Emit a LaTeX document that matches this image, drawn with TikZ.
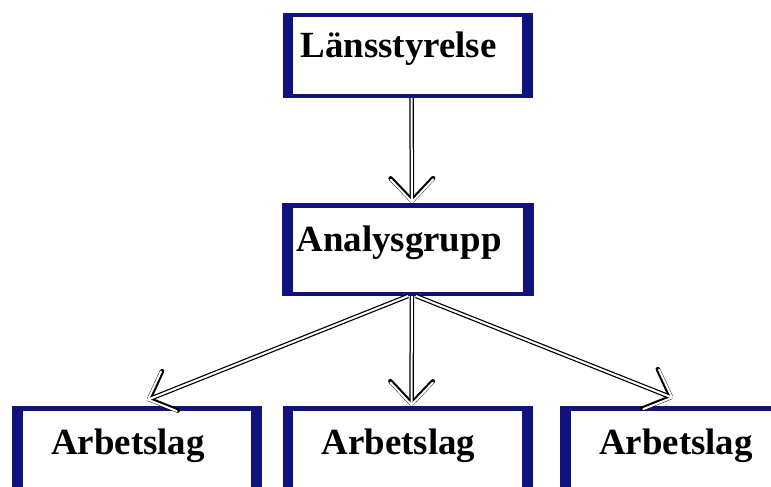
\documentclass[tikz,border=0pt]{standalone}
\usepackage{fontspec}
\setmainfont{Liberation Serif}
\usetikzlibrary{arrows.meta}
\definecolor{framecl}{HTML}{12127E}
\tikzset{
  box/.style={draw=framecl, line width=0.09cm, fill=white,
    minimum width=4.91cm, minimum height=1.77cm, inner sep=0pt,
    font=\fontsize{21}{24}\selectfont\bfseries,
    text height=0.5cm, text depth=0.42cm,
    execute at begin node={\hspace*{-0.36cm}},
    path picture={
      \fill[framecl] (path picture bounding box.south west) rectangle ([xshift=0.17cm]path picture bounding box.north west);
      \fill[framecl] (path picture bounding box.south east) rectangle ([xshift=-0.17cm]path picture bounding box.north east);
    }},
  conn/.style={draw=black, line width=0.09cm,
    -{Straight Barb[length=0.45cm,width=0.85cm,round]},
    postaction={draw=white, line width=0.04cm}}
}
\begin{document}
\begin{tikzpicture}
  \path[use as bounding box, clip] (0,0) rectangle (15.42,9.72);
  % boxes
  \node[box, minimum height=1.61cm] (lan) at (8.15,8.61) {Länsstyrelse};
  \node[box, minimum width=4.95cm] (grp) at (8.16,4.73) {Analysgrupp};
  \node[box] (arb1) at ( 2.74,0.67) {Arbetslag};
  \node[box] (arb2) at ( 8.15,0.67) {Arbetslag};
  \node[box] (arb3) at (13.70,0.67) {Arbetslag};
  % arrows
  \draw[conn] ([xshift=0.08cm]lan.south) -- ([xshift=0.08cm]grp.north);
  \draw[conn] (grp.south) -- ([xshift=0.2cm,yshift=0.12cm]arb1.north);
  \draw[conn] ([xshift=0.08cm]grp.south) -- ([xshift=0.08cm]arb2.north);
  \draw[conn] ([xshift=0.16cm]grp.south) -- ([xshift=-0.24cm,yshift=0.16cm]arb3.north);
\end{tikzpicture}
\end{document}
